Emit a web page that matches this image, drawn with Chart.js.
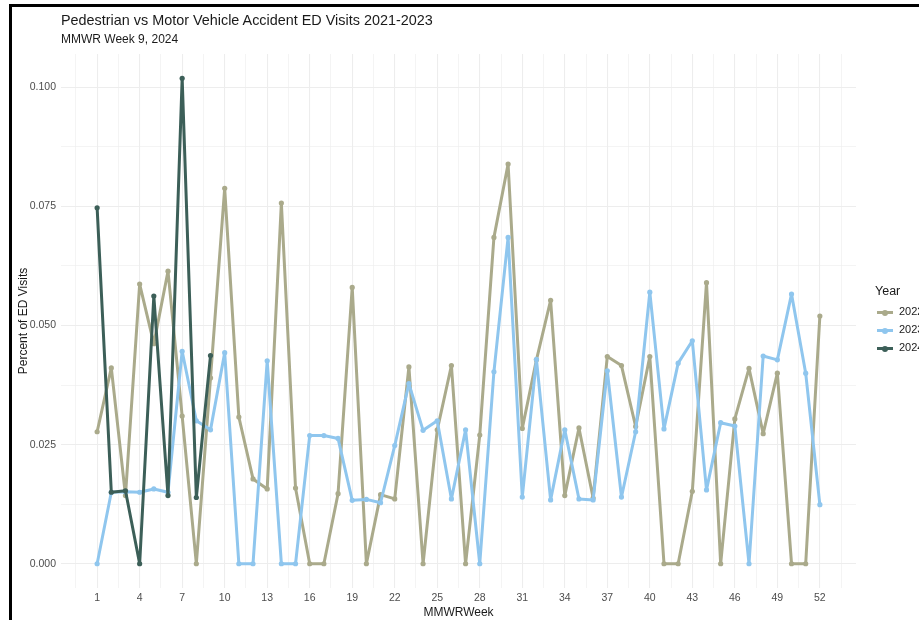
<!DOCTYPE html>
<html>
<head>
<meta charset="utf-8">
<script src="https://cdn.jsdelivr.net/npm/chart.js@4.4.1/dist/chart.umd.min.js"></script>
<style>
  html, body { margin: 0; padding: 0; background: #ffffff; overflow: hidden; }
  body { width: 919px; height: 620px; position: relative; font-family: "Liberation Sans", Arial, sans-serif; }
  #frame { position: absolute; left: 9px; top: 4px; width: 930px; height: 640px; border-left: 3px solid #000; border-top: 3px solid #000; box-sizing: border-box; }
  #chart { position: absolute; left: 0; top: 0; }
  .title { position: absolute; left: 61px; top: 12px; font-size: 14.4px; color: #1a1a1a; white-space: nowrap; }
  .subtitle { position: absolute; left: 61px; top: 32px; font-size: 12px; color: #1a1a1a; white-space: nowrap; }
  #legend { position: absolute; left: 875px; top: 284px; font-size: 12px; color: #1a1a1a; white-space: nowrap; }
  #legend .lt { font-size: 12.5px; margin-bottom: 6px; }
  #legend .it { position: relative; height: 18px; }
  #legend .ln { position: absolute; left: 2px; top: 7px; width: 16px; height: 3px; }
  #legend .dt { position: absolute; left: 7px; top: 5.5px; width: 6px; height: 6px; border-radius: 50%; }
  #legend .tx { position: absolute; left: 24px; top: 1px; font-size: 11px; color: #1a1a1a; }
</style>
</head>
<body>
<canvas id="chart" width="919" height="620"></canvas>
<div id="frame"></div>
<div class="title">Pedestrian vs Motor Vehicle Accident ED Visits 2021-2023</div>
<div class="subtitle">MMWR Week 9, 2024</div>
<div id="legend"></div>
<script>
// ---- data ----
const weeks = Array.from({length: 52}, (_, i) => i + 1);
const seriesNames = ["2022", "2023", "2024"];
const seriesColors = ["#AAAA8B", "#8FC6EE", "#3C5F58"];
const y2022 = [0.0277, 0.0411, 0.0143, 0.0587, 0.0462, 0.0614, 0.0310, 0.0000, 0.0390, 0.0788,
               0.0308, 0.0178, 0.0157, 0.0757, 0.0159, 0.0000, 0.0000, 0.0147, 0.0580, 0.0000,
               0.0145, 0.0136, 0.0413, 0.0000, 0.0281, 0.0416, 0.0000, 0.0270, 0.0685, 0.0839,
               0.0284, 0.0428, 0.0553, 0.0143, 0.0285, 0.0138, 0.0435, 0.0416, 0.0288, 0.0435,
               0.0000, 0.0000, 0.0152, 0.0590, 0.0000, 0.0304, 0.0410, 0.0273, 0.0400, 0.0000,
               0.0000, 0.0520];
const y2023 = [0.0000, 0.0150, 0.0151, 0.0150, 0.0157, 0.0150, 0.0446, 0.0300, 0.0281, 0.0443,
               0.0000, 0.0000, 0.0426, 0.0000, 0.0000, 0.0269, 0.0269, 0.0263, 0.0133, 0.0135,
               0.0128, 0.0248, 0.0378, 0.0280, 0.0300, 0.0136, 0.0281, 0.0000, 0.0403, 0.0685,
               0.0140, 0.0429, 0.0134, 0.0281, 0.0136, 0.0134, 0.0405, 0.0140, 0.0277, 0.0570,
               0.0283, 0.0421, 0.0468, 0.0155, 0.0296, 0.0289, 0.0000, 0.0436, 0.0428, 0.0566,
               0.0400, 0.0124];
const weeks2024 = [1, 2, 3, 4, 5, 6, 7, 8, 9];
const y2024 = [0.0747, 0.0150, 0.0153, 0.0000, 0.0562, 0.0143, 0.1019, 0.0139, 0.0437];
const xTickLabels = [1, 4, 7, 10, 13, 16, 19, 22, 25, 28, 31, 34, 37, 40, 43, 46, 49, 52];
const yTickLabels = [0, 0.025, 0.05, 0.075, 0.1];

const toPts = (xs, ys) => xs.map((x, i) => ({x: x, y: ys[i]}));

// legend (HTML)
const leg = document.getElementById('legend');
let html = '<div class="lt">Year</div>';
seriesNames.forEach((n, i) => {
  html += '<div class="it"><div class="ln" style="background:' + seriesColors[i] + '"></div>' +
          '<div class="dt" style="background:' + seriesColors[i] + '"></div>' +
          '<div class="tx">' + n + '</div></div>';
});
leg.innerHTML = html;

const xMin = 1 - 0.05 * 51, xMax = 52 + 0.05 * 51;
const yMax0 = Math.max(...y2024);
const yMin = -0.05 * yMax0, yMax = yMax0 * 1.05;

const isMajorX = v => xTickLabels.some(t => Math.abs(t - v) < 1e-6);
const isMajorY = v => yTickLabels.some(t => Math.abs(t - v) < 1e-9);

const ds = (i, xs, ys, order) => ({
  label: seriesNames[i],
  data: toPts(xs, ys),
  borderColor: seriesColors[i],
  backgroundColor: seriesColors[i],
  borderWidth: 3,
  borderJoinStyle: 'round',
  borderCapStyle: 'round',
  pointRadius: 2.6,
  pointBorderWidth: 0,
  pointHoverRadius: 2.6,
  tension: 0,
  order: order
});

new Chart(document.getElementById('chart'), {
  type: 'line',
  data: {
    datasets: [
      ds(2, weeks2024, y2024, 0),
      ds(1, weeks, y2023, 1),
      ds(0, weeks, y2022, 2)
    ]
  },
  options: {
    responsive: false,
    animation: false,
    devicePixelRatio: 1,
    layout: { padding: { left: 0, right: 63, top: 54, bottom: 0 } },
    plugins: { legend: { display: false }, tooltip: { enabled: false }, title: { display: false } },
    scales: {
      x: {
        type: 'linear',
        min: xMin, max: xMax,
        afterBuildTicks: s => {
          const t = [];
          for (let v = -0.5; v <= 54; v += 1.5) t.push({value: v});
          s.ticks = t;
        },
        afterFit: s => { s.height = 32; },
        ticks: {
          autoSkip: false, maxRotation: 0, padding: 4,
          color: '#4D4D4D', font: { family: 'Liberation Sans', size: 10.5 },
          callback: v => isMajorX(v) ? String(Math.round(v)) : ''
        },
        grid: {
          drawTicks: false,
          color: '#EDEDED',
          lineWidth: c => (c.tick && isMajorX(c.tick.value)) ? 1.1 : 0.6
        },
        border: { display: false },
        title: {
          display: true, text: 'MMWRWeek', color: '#1a1a1a',
          font: { family: 'Liberation Sans', size: 12 }, padding: { top: 0, bottom: 0 }
        }
      },
      y: {
        type: 'linear',
        min: yMin, max: yMax,
        afterBuildTicks: s => {
          const t = [];
          for (let k = 0; k <= 8; k++) t.push({value: k * 0.0125});
          s.ticks = t;
        },
        afterFit: s => { s.width = 61; },
        ticks: {
          autoSkip: false, padding: 5,
          color: '#4D4D4D', font: { family: 'Liberation Sans', size: 10.5 },
          callback: v => isMajorY(v) ? v.toFixed(3) : ''
        },
        grid: {
          drawTicks: false,
          color: '#EDEDED',
          lineWidth: c => (c.tick && isMajorY(c.tick.value)) ? 1.1 : 0.6
        },
        border: { display: false },
        title: {
          display: true, text: 'Percent of ED Visits', color: '#1a1a1a',
          font: { family: 'Liberation Sans', size: 12 }, padding: { top: 16, bottom: 0 }
        }
      }
    }
  }
});
</script>
</body>
</html>
